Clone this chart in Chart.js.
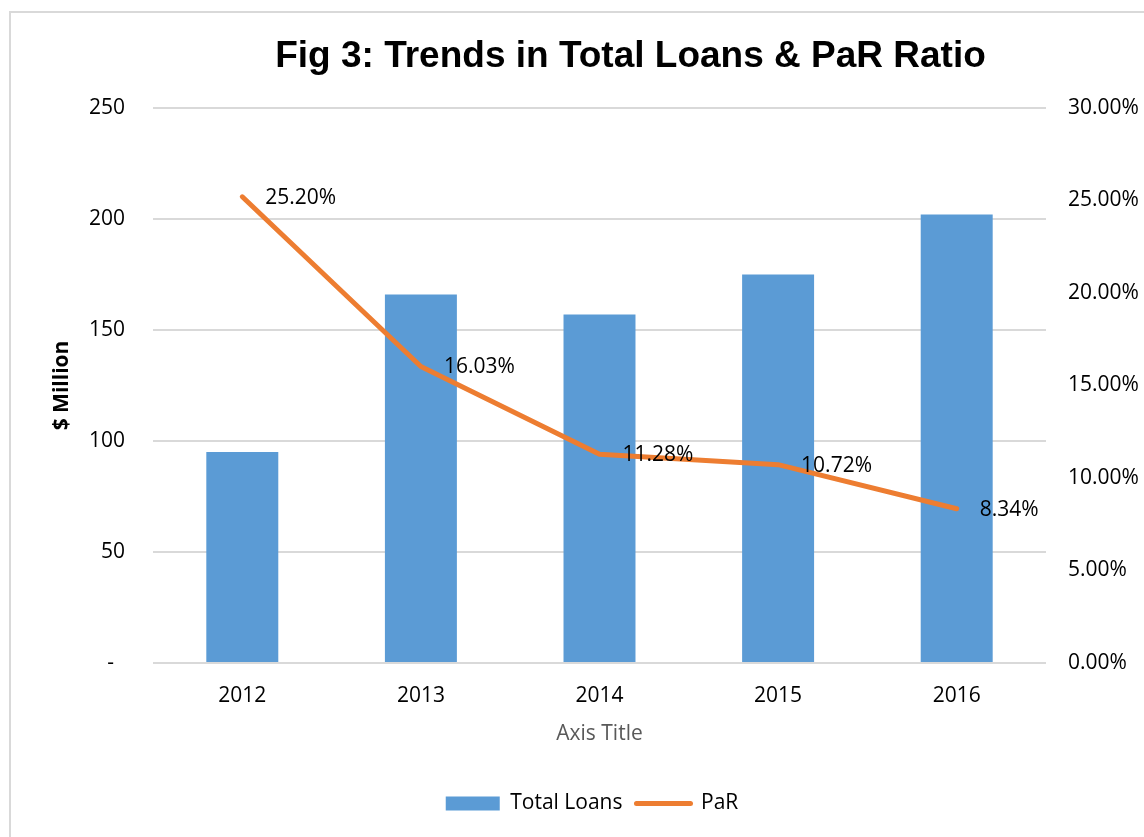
<!DOCTYPE html>
<html><head><meta charset="utf-8">
<script src="https://cdn.jsdelivr.net/npm/chart.js@4/dist/chart.umd.min.js"></script>
<style>html,body{margin:0;padding:0;background:#fff;overflow:hidden}#wrap{width:1144px;height:837px;position:relative}</style>
</head><body><div id="wrap"><canvas id="c" width="1144" height="837"></canvas></div>
<script>
const categories = ['2012', '2013', '2014', '2015', '2016'];
const totalLoans = [95, 166, 157, 175, 202];
const parRatio = [25.20, 16.03, 11.28, 10.72, 8.34];
const parLabels = ['25.20%', '16.03%', '11.28%', '10.72%', '8.34%'];
const leftTickLabels = ['-  ', '50', '100', '150', '200', '250'];
const rightTickLabels = ['0.00%', '5.00%', '10.00%', '15.00%', '20.00%', '25.00%', '30.00%'];
const chartTitle = 'Fig 3: Trends in Total Loans & PaR Ratio';
const leftAxisTitle = '$ Million';
const bottomAxisTitle = 'Axis Title';
const seriesNames = ['Total Loans', 'PaR'];

const BLUE = '#5B9BD5', ORANGE = '#ED7D31', GRID = '#d9d9d9';
const FONT = '"Open Sans", "DejaVu Sans", sans-serif';

const framePlugin = {
  id: 'frame',
  beforeDraw(chart) {
    const ctx = chart.ctx;
    ctx.save();
    ctx.fillStyle = '#fff';
    ctx.fillRect(0, 0, chart.width, chart.height);
    ctx.strokeStyle = '#d9d9d9';
    ctx.lineWidth = 2;
    ctx.beginPath();
    ctx.moveTo(10, chart.height); ctx.lineTo(10, 12); ctx.lineTo(chart.width, 12);
    ctx.stroke();
    ctx.restore();
  },
  afterDraw(chart) {
    const ctx = chart.ctx;
    ctx.save();
    ctx.fillStyle = '#000';
    ctx.font = 'bold 37px "Liberation Sans", Arial, sans-serif';
    ctx.textAlign = 'center';
    ctx.textBaseline = 'alphabetic';
    ctx.fillText(chartTitle, 630.5, 67);
    ctx.restore();
  }
};

const labelPlugin = {
  id: 'pointLabels',
  afterDatasetsDraw(chart) {
    const meta = chart.getDatasetMeta(1);
    const ctx = chart.ctx;
    ctx.save();
    ctx.fillStyle = '#000';
    ctx.font = '21px ' + FONT;
    ctx.textAlign = 'left';
    ctx.textBaseline = 'middle';
    meta.data.forEach((pt, i) => {
      ctx.fillText(parLabels[i], pt.x + 23, pt.y + 1);
    });
    ctx.restore();
  }
};

new Chart(document.getElementById('c'), {
  data: {
    labels: categories,
    datasets: [
      {
        type: 'bar', label: seriesNames[0], data: totalLoans, yAxisID: 'y',
        backgroundColor: BLUE, borderWidth: 0, order: 1,
        categoryPercentage: 1.0, barPercentage: 0.403
      },
      {
        type: 'line', label: seriesNames[1], data: parRatio, yAxisID: 'y1',
        borderColor: ORANGE, backgroundColor: ORANGE, borderWidth: 5,
        borderCapStyle: 'round', borderJoinStyle: 'round',
        pointRadius: 0, pointHoverRadius: 0, tension: 0, fill: false, order: 0
      }
    ]
  },
  options: {
    responsive: false,
    animation: false,
    devicePixelRatio: 1,
    layout: { padding: { left: 40, right: 0, top: 108, bottom: 13 } },
    plugins: {
      title: { display: false },
      tooltip: { enabled: false },
      legend: {
        display: true,
        position: 'bottom',
        labels: {
          usePointStyle: true,
          pointStyleWidth: 54,
          boxHeight: 14,
          padding: 14,
          color: '#000',
          font: { family: FONT, size: 21 },
          generateLabels(chart) {
            return chart.data.datasets.map((ds, i) => ({
              text: ds.label,
              datasetIndex: i,
              fillStyle: i === 0 ? BLUE : ORANGE,
              strokeStyle: i === 0 ? BLUE : ORANGE,
              lineWidth: i === 0 ? 0 : 5,
              lineCap: 'round',
              pointStyle: i === 0 ? 'rect' : 'line',
              hidden: false,
              fontColor: '#000'
            }));
          }
        }
      }
    },
    scales: {
      x: {
        offset: true,
        grid: { display: false, drawTicks: false },
        border: { display: false },
        ticks: { color: '#000', padding: 20, font: { family: FONT, size: 21 }, maxRotation: 0 },
        title: { display: true, text: bottomAxisTitle, color: '#595959', font: { family: FONT, size: 21 }, padding: { top: 4, bottom: 32 } },
        afterFit(scale) { scale.height = 116; }
      },
      y: {
        position: 'left',
        min: 0, max: 250,
        ticks: { stepSize: 50, color: '#000', padding: 28, font: { family: FONT, size: 21 },
          callback: (v, i) => leftTickLabels[i] },
        grid: { color: GRID, lineWidth: 2, drawTicks: false },
        border: { display: false },
        title: { display: true, text: leftAxisTitle, color: '#000', font: { family: FONT, size: 21, weight: 'bold' }, padding: { top: 9, bottom: 0 } },
        afterFit(scale) { scale.width = 113; }
      },
      y1: {
        position: 'right',
        min: 0, max: 30,
        ticks: { stepSize: 5, color: '#000', padding: 22, font: { family: FONT, size: 21 },
          callback: (v, i) => rightTickLabels[i] },
        grid: { display: false, drawTicks: false },
        border: { display: false },
        afterFit(scale) { scale.width = 98; }
      }
    }
  },
  plugins: [framePlugin, labelPlugin]
});
</script>
</body></html>
